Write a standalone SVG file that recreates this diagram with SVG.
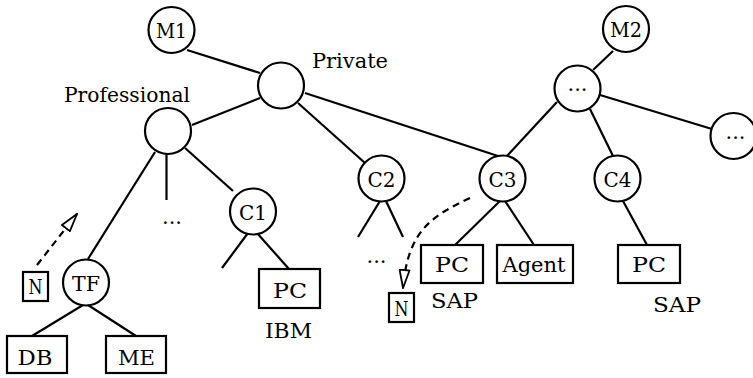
<svg xmlns="http://www.w3.org/2000/svg" width="753" height="378" viewBox="0 0 753 378">
<style>
.t text{font-family:"DejaVu Serif",serif;font-size:21px;fill:#000;text-anchor:middle}
.n{fill:#fff;stroke:#000;stroke-width:2.2}
.e line{stroke:#000;stroke-width:2.2;stroke-linecap:butt}
.d{fill:none;stroke:#000;stroke-width:2.2;stroke-dasharray:7 5}
</style>
<defs>
<marker id="oa" viewBox="0 0 20 12" refX="19" refY="6" markerWidth="20" markerHeight="12" markerUnits="userSpaceOnUse" orient="auto">
<path d="M1,1 L19,6 L1,11 Z" fill="#fff" stroke="#000" stroke-width="1.8" stroke-linejoin="miter"/>
</marker>
</defs>
<rect width="753" height="378" fill="#fff"/>
<g id="connectors" class="e">
<line x1="187" y1="50" x2="260" y2="73"/>
<line x1="192" y1="125" x2="260" y2="98"/>
<line x1="298" y1="103" x2="365" y2="163"/>
<line x1="305" y1="93" x2="498" y2="156"/>
<line x1="155" y1="152" x2="88" y2="259"/>
<line x1="166.5" y1="154" x2="166.5" y2="200"/>
<line x1="185" y1="148" x2="233" y2="191"/>
<line x1="248" y1="233" x2="222" y2="268"/>
<line x1="257" y1="233" x2="289" y2="269"/>
<line x1="380" y1="201" x2="358" y2="237"/>
<line x1="386" y1="201" x2="403" y2="237"/>
<line x1="500" y1="201" x2="455" y2="245"/>
<line x1="505" y1="201" x2="534" y2="245"/>
<line x1="623" y1="201" x2="647" y2="245"/>
<line x1="83" y1="305" x2="32" y2="336"/>
<line x1="88" y1="305" x2="136" y2="336"/>
<line x1="613" y1="51" x2="593" y2="70"/>
<line x1="557" y1="102" x2="507" y2="156"/>
<line x1="590" y1="109" x2="613" y2="156"/>
<line x1="600" y1="95" x2="712" y2="129"/>
<line x1="37" y1="265" x2="77" y2="214" class="d" marker-end="url(#oa)"/>
<path class="d" d="M470,198 C432,216 408,230 403,288" marker-end="url(#oa)"/>
</g>
<g class="t">
<g id="M1"><circle class="n" cx="171.5" cy="30" r="23"/><text x="171.5" y="38" textLength="31" lengthAdjust="spacingAndGlyphs">M1</text></g>
<g id="Private"><circle class="n" cx="281" cy="85.5" r="23"/><text x="350" y="68" textLength="76" lengthAdjust="spacingAndGlyphs">Private</text></g>
<g id="Professional"><circle class="n" cx="168" cy="131" r="23"/><text x="127" y="102" textLength="126" lengthAdjust="spacingAndGlyphs">Professional</text></g>
<g id="dots1"><text x="172" y="224">...</text></g>
<g id="C1"><circle class="n" cx="253" cy="211.5" r="23"/><text x="253" y="219.5" textLength="28" lengthAdjust="spacingAndGlyphs">C1</text></g>
<g id="C2"><circle class="n" cx="381.5" cy="178.5" r="23"/><text x="381.5" y="186.5" textLength="28" lengthAdjust="spacingAndGlyphs">C2</text></g>
<g id="dots2"><text x="376.5" y="263">...</text></g>
<g id="C3"><circle class="n" cx="502.5" cy="178.5" r="23"/><text x="502.5" y="186.5" textLength="28" lengthAdjust="spacingAndGlyphs">C3</text></g>
<g id="C4"><circle class="n" cx="617.5" cy="178.5" r="23"/><text x="617.5" y="186.5" textLength="28" lengthAdjust="spacingAndGlyphs">C4</text></g>
<g id="M2"><circle class="n" cx="626" cy="29" r="23"/><text x="626" y="37" textLength="32" lengthAdjust="spacingAndGlyphs">M2</text></g>
<g id="mid"><circle class="n" cx="577.5" cy="88.5" r="23"/><text x="577.5" y="91">...</text></g>
<g id="right"><circle class="n" cx="733.5" cy="136" r="23"/><text x="735.5" y="138.5">...</text></g>
<g id="TF"><circle class="n" cx="86" cy="282.5" r="23"/><text x="86" y="290.5" textLength="28" lengthAdjust="spacingAndGlyphs">TF</text></g>
<g id="N1"><rect class="n" x="23" y="272" width="25" height="29"/><text x="35.5" y="294" textLength="14" lengthAdjust="spacingAndGlyphs">N</text></g>
<g id="DB"><rect class="n" x="7" y="336" width="60" height="37"/><text x="35" y="365" textLength="35" lengthAdjust="spacingAndGlyphs">DB</text></g>
<g id="ME"><rect class="n" x="106" y="336" width="60" height="37"/><text x="136.5" y="365" textLength="37" lengthAdjust="spacingAndGlyphs">ME</text></g>
<g id="PC1"><rect class="n" x="259" y="269" width="61" height="39"/><text x="290" y="298" textLength="34" lengthAdjust="spacingAndGlyphs">PC</text></g>
<g id="IBM"><text x="288.5" y="338" textLength="47" lengthAdjust="spacingAndGlyphs">IBM</text></g>
<g id="N2"><rect class="n" x="389" y="293" width="25" height="29"/><text x="401.5" y="316" textLength="14" lengthAdjust="spacingAndGlyphs">N</text></g>
<g id="PC3"><rect class="n" x="421" y="245" width="62" height="38"/><text x="452" y="272" textLength="34" lengthAdjust="spacingAndGlyphs">PC</text></g>
<g id="SAP1"><text x="454.5" y="308" textLength="47" lengthAdjust="spacingAndGlyphs">SAP</text></g>
<g id="Agent"><rect class="n" x="497" y="245" width="76" height="38"/><text x="534" y="272" textLength="63" lengthAdjust="spacingAndGlyphs">Agent</text></g>
<g id="PC4"><rect class="n" x="618" y="245" width="62" height="38"/><text x="649" y="272" textLength="34" lengthAdjust="spacingAndGlyphs">PC</text></g>
<g id="SAP2"><text x="677" y="312" textLength="48" lengthAdjust="spacingAndGlyphs">SAP</text></g>
</g>
</svg>
